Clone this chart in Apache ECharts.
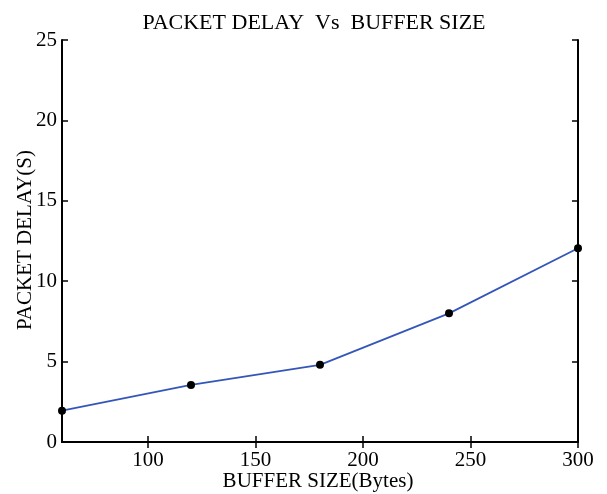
<!DOCTYPE html>
<html>
<head>
<meta charset="utf-8">
<script src="https://cdn.jsdelivr.net/npm/echarts@6/dist/echarts.min.js"></script>
<style>
html,body{margin:0;padding:0;background:#fff;}
#chart{width:607px;height:494px;}
</style>
</head>
<body>
<div id="chart"></div>
<script>
var bufferSizes = [60, 120, 180, 240, 300];
var packetDelays = [1.95, 3.55, 4.8, 8.0, 12.05];
var xTicks = [100, 150, 200, 250, 300];

var serif = 'Liberation Serif';
var chart = echarts.init(document.getElementById('chart'));

var lineData = [];
for (var i = 0; i < bufferSizes.length; i++) {
	lineData.push([bufferSizes[i], packetDelays[i]]);
}

var frameLine = { show: true, lineStyle: { color: '#000', width: 2 } };
var inTick = function(vals) {
	var t = { show: true, inside: true, length: 6, lineStyle: { color: '#000', width: 1.5 } };
	if (vals) { t.customValues = vals; }
	return t;
};

chart.setOption({
	animation: false,
	title: {
		text: 'PACKET DELAY  Vs  BUFFER SIZE',
		left: 309,
		top: 7,
		textAlign: 'center',
		textStyle: { fontFamily: serif, fontSize: 22, fontWeight: 'normal', color: '#000' }
	},
	// axis titles placed by hand, the axis name kept drifting below the labels
	graphic: [{
		type: 'text',
		x: 318,
		y: 481,
		style: { text: 'BUFFER SIZE(Bytes)', font: '21px "Liberation Serif"', fill: '#000', align: 'center', verticalAlign: 'middle' }
	}, {
		type: 'text',
		x: 25,
		y: 240,
		rotation: Math.PI / 2,
		style: { text: 'PACKET DELAY(S)', font: '21px "Liberation Serif"', fill: '#000', align: 'center', verticalAlign: 'middle' }
	}],
	grid: { left: 62, right: 29, top: 40, bottom: 52, outerBoundsMode: 'none' },
	xAxis: [{
		type: 'value',
		min: 60,
		max: 300,
		axisLine: frameLine,
		axisTick: inTick(xTicks),
		axisLabel: { customValues: xTicks, fontFamily: serif, fontSize: 21, color: '#000', margin: 8 },
		splitLine: { show: false }
	}, {
		type: 'value',
		position: 'top',
		min: 60,
		max: 300,
		axisLine: frameLine,
		axisTick: inTick(xTicks),
		axisLabel: { show: false },
		splitLine: { show: false }
	}],
	yAxis: [{
		type: 'value',
		min: 0,
		max: 25,
		interval: 5,
		axisLine: frameLine,
		axisTick: inTick(),
		axisLabel: { fontFamily: serif, fontSize: 21, color: '#000', margin: 5 },
		splitLine: { show: false }
	}, {
		type: 'value',
		position: 'right',
		min: 0,
		max: 25,
		interval: 5,
		axisLine: frameLine,
		axisTick: inTick(),
		axisLabel: { show: false },
		splitLine: { show: false }
	}],
	series: [{
		type: 'line',
		data: lineData,
		symbol: 'circle',
		symbolSize: 8,
		itemStyle: { color: '#000' },
		lineStyle: { color: '#3456b8', width: 1.8 },
		clip: false
	}]
});
</script>
</body>
</html>
